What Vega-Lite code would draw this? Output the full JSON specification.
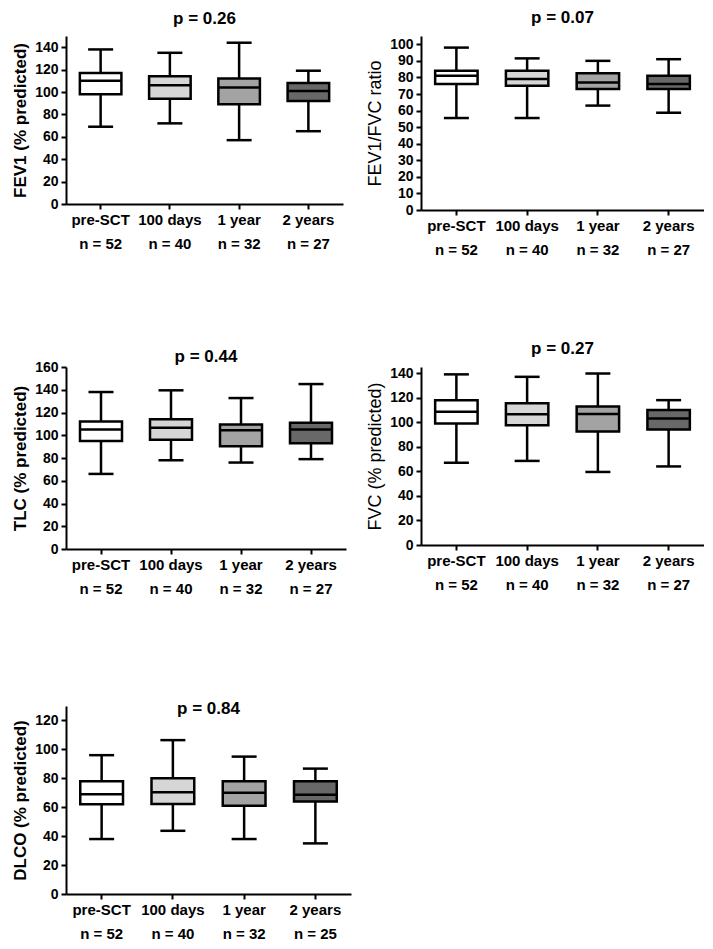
{
  "$schema": "https://vega.github.io/schema/vega-lite/v6.json",
  "background": "white",
  "padding": {"left": 11, "top": 9, "right": 0, "bottom": 0},
  "columns": 2,
  "align": "none",
  "bounds": "flush",
  "spacing": {"row": 157, "column": 70},
  "config": {
    "font": "Liberation Sans",
    "view": {"stroke": null},
    "axis": {"grid": false, "labelOverlap": false, "domainColor": "black", "domainWidth": 2, "tickColor": "black", "tickWidth": 2, "tickSize": 5, "labelFont": "Liberation Sans", "labelFontWeight": "bold", "labelFontSize": 14, "labelColor": "black", "labelPadding": 3, "titleFont": "Liberation Sans", "titleColor": "black", "titleFontSize": 17, "titleFontWeight": "bold", "titlePadding": 5},
    "axisX": {"labelAngle": 0, "labelFontSize": 15, "labelLineHeight": 24, "labelPadding": 3, "tickSize": 5},
    "title": {"font": "Liberation Sans", "fontSize": 17, "fontWeight": "bold", "color": "black", "frame": "group", "anchor": "middle"}
  },
  "concat": [
    {
      "width": 277, "height": 168,
      "title": {"text": "p = 0.26", "offset": 8},
      "data": {"values": [
        {"g": "pre-SCT|n = 52", "k": "pre", "lo": 69, "q1": 98, "med": 110, "q3": 117, "hi": 138},
        {"g": "100 days|n = 40", "k": "d100", "lo": 72, "q1": 94, "med": 106, "q3": 114, "hi": 135},
        {"g": "1 year|n = 32", "k": "y1", "lo": 57, "q1": 89, "med": 104, "q3": 112, "hi": 144},
        {"g": "2 years|n = 27", "k": "y2", "lo": 65, "q1": 92, "med": 101, "q3": 108, "hi": 119}
      ]},
      "encoding": {"x": {"field": "g", "type": "nominal", "sort": null, "title": null, "scale": {"paddingInner": 0, "paddingOuter": 0}, "axis": {"labelExpr": "split(datum.label, '|')"}}},
      "layer": [
        {"mark": {"type": "rule", "color": "black", "strokeWidth": 2.5}, "encoding": {"y": {"field": "lo", "type": "quantitative", "title": "FEV1 (% predicted)", "scale": {"domain": [0, 150], "nice": false}, "axis": {"values": [0, 20, 40, 60, 80, 100, 120, 140]}}, "y2": {"field": "hi"}}},
        {"mark": {"type": "tick", "color": "black", "thickness": 2.5, "size": 25, "opacity": 1}, "encoding": {"y": {"field": "lo", "type": "quantitative", "title": "FEV1 (% predicted)", "axis": {"values": [0, 20, 40, 60, 80, 100, 120, 140]}}}},
        {"mark": {"type": "tick", "color": "black", "thickness": 2.5, "size": 25, "opacity": 1}, "encoding": {"y": {"field": "hi", "type": "quantitative", "title": "FEV1 (% predicted)", "axis": {"values": [0, 20, 40, 60, 80, 100, 120, 140]}}}},
        {"mark": {"type": "bar", "stroke": "black", "strokeWidth": 2.5, "width": {"band": 0.6}}, "encoding": {"y": {"field": "q1", "type": "quantitative", "title": "FEV1 (% predicted)", "axis": {"values": [0, 20, 40, 60, 80, 100, 120, 140]}}, "y2": {"field": "q3"}, "fill": {"field": "k", "type": "nominal", "legend": null, "scale": {"domain": ["pre", "d100", "y1", "y2"], "range": ["#ffffff", "#d6d6d6", "#a3a3a3", "#686868"]}}}},
        {"mark": {"type": "tick", "color": "black", "thickness": 2.5, "size": 42, "opacity": 1}, "encoding": {"y": {"field": "med", "type": "quantitative", "title": "FEV1 (% predicted)", "axis": {"values": [0, 20, 40, 60, 80, 100, 120, 140]}}}}
      ]
    },
    {
      "width": 283, "height": 174,
      "title": {"text": "p = 0.07", "offset": 9},
      "data": {"values": [
        {"g": "pre-SCT|n = 52", "k": "pre", "lo": 55.5, "q1": 76, "med": 81, "q3": 84, "hi": 98},
        {"g": "100 days|n = 40", "k": "d100", "lo": 55.5, "q1": 75, "med": 79, "q3": 84, "hi": 91.5},
        {"g": "1 year|n = 32", "k": "y1", "lo": 63, "q1": 73, "med": 77, "q3": 82.5, "hi": 90},
        {"g": "2 years|n = 27", "k": "y2", "lo": 58.7, "q1": 73, "med": 76, "q3": 81, "hi": 91}
      ]},
      "encoding": {"x": {"field": "g", "type": "nominal", "sort": null, "title": null, "scale": {"paddingInner": 0, "paddingOuter": 0}, "axis": {"labelExpr": "split(datum.label, '|')"}}},
      "layer": [
        {"mark": {"type": "rule", "color": "black", "strokeWidth": 2.5}, "encoding": {"y": {"field": "lo", "type": "quantitative", "title": "FEV1/FVC ratio", "scale": {"domain": [0, 105], "nice": false}, "axis": {"values": [0, 10, 20, 30, 40, 50, 60, 70, 80, 90, 100], "titleFontWeight": "normal", "titleFontSize": 18}}, "y2": {"field": "hi"}}},
        {"mark": {"type": "tick", "color": "black", "thickness": 2.5, "size": 25, "opacity": 1}, "encoding": {"y": {"field": "lo", "type": "quantitative", "title": "FEV1/FVC ratio", "axis": {"values": [0, 10, 20, 30, 40, 50, 60, 70, 80, 90, 100], "titleFontWeight": "normal", "titleFontSize": 18}}}},
        {"mark": {"type": "tick", "color": "black", "thickness": 2.5, "size": 25, "opacity": 1}, "encoding": {"y": {"field": "hi", "type": "quantitative", "title": "FEV1/FVC ratio", "axis": {"values": [0, 10, 20, 30, 40, 50, 60, 70, 80, 90, 100], "titleFontWeight": "normal", "titleFontSize": 18}}}},
        {"mark": {"type": "bar", "stroke": "black", "strokeWidth": 2.5, "width": {"band": 0.6}}, "encoding": {"y": {"field": "q1", "type": "quantitative", "title": "FEV1/FVC ratio", "axis": {"values": [0, 10, 20, 30, 40, 50, 60, 70, 80, 90, 100], "titleFontWeight": "normal", "titleFontSize": 18}}, "y2": {"field": "q3"}, "fill": {"field": "k", "type": "nominal", "legend": null, "scale": {"domain": ["pre", "d100", "y1", "y2"], "range": ["#ffffff", "#d6d6d6", "#a3a3a3", "#686868"]}}}},
        {"mark": {"type": "tick", "color": "black", "thickness": 2.5, "size": 42, "opacity": 1}, "encoding": {"y": {"field": "med", "type": "quantitative", "title": "FEV1/FVC ratio", "axis": {"values": [0, 10, 20, 30, 40, 50, 60, 70, 80, 90, 100], "titleFontWeight": "normal", "titleFontSize": 18}}}}
      ]
    },
    {
      "width": 280, "height": 182,
      "title": {"text": "p = 0.44", "offset": -6},
      "data": {"values": [
        {"g": "pre-SCT|n = 52", "k": "pre", "lo": 66, "q1": 95, "med": 105, "q3": 112, "hi": 138},
        {"g": "100 days|n = 40", "k": "d100", "lo": 78, "q1": 96, "med": 106.5, "q3": 114, "hi": 139.5},
        {"g": "1 year|n = 32", "k": "y1", "lo": 76, "q1": 90.4, "med": 104.5, "q3": 109.5, "hi": 132.7},
        {"g": "2 years|n = 27", "k": "y2", "lo": 79, "q1": 93, "med": 105, "q3": 111, "hi": 145}
      ]},
      "encoding": {"x": {"field": "g", "type": "nominal", "sort": null, "title": null, "scale": {"paddingInner": 0, "paddingOuter": 0}, "axis": {"labelExpr": "split(datum.label, '|')"}}},
      "layer": [
        {"mark": {"type": "rule", "color": "black", "strokeWidth": 2.5}, "encoding": {"y": {"field": "lo", "type": "quantitative", "title": "TLC (% predicted)", "scale": {"domain": [0, 160], "nice": false}, "axis": {"values": [0, 20, 40, 60, 80, 100, 120, 140, 160]}}, "y2": {"field": "hi"}}},
        {"mark": {"type": "tick", "color": "black", "thickness": 2.5, "size": 25, "opacity": 1}, "encoding": {"y": {"field": "lo", "type": "quantitative", "title": "TLC (% predicted)", "axis": {"values": [0, 20, 40, 60, 80, 100, 120, 140, 160]}}}},
        {"mark": {"type": "tick", "color": "black", "thickness": 2.5, "size": 25, "opacity": 1}, "encoding": {"y": {"field": "hi", "type": "quantitative", "title": "TLC (% predicted)", "axis": {"values": [0, 20, 40, 60, 80, 100, 120, 140, 160]}}}},
        {"mark": {"type": "bar", "stroke": "black", "strokeWidth": 2.5, "width": {"band": 0.6}}, "encoding": {"y": {"field": "q1", "type": "quantitative", "title": "TLC (% predicted)", "axis": {"values": [0, 20, 40, 60, 80, 100, 120, 140, 160]}}, "y2": {"field": "q3"}, "fill": {"field": "k", "type": "nominal", "legend": null, "scale": {"domain": ["pre", "d100", "y1", "y2"], "range": ["#ffffff", "#d6d6d6", "#a3a3a3", "#686868"]}}}},
        {"mark": {"type": "tick", "color": "black", "thickness": 2.5, "size": 42, "opacity": 1}, "encoding": {"y": {"field": "med", "type": "quantitative", "title": "TLC (% predicted)", "axis": {"values": [0, 20, 40, 60, 80, 100, 120, 140, 160]}}}}
      ]
    },
    {
      "width": 283, "height": 178,
      "title": {"text": "p = 0.27", "offset": 8},
      "data": {"values": [
        {"g": "pre-SCT|n = 52", "k": "pre", "lo": 67, "q1": 99, "med": 108.5, "q3": 118, "hi": 139},
        {"g": "100 days|n = 40", "k": "d100", "lo": 68.5, "q1": 97.5, "med": 106.5, "q3": 115.5, "hi": 137},
        {"g": "1 year|n = 32", "k": "y1", "lo": 59.5, "q1": 92.4, "med": 106.8, "q3": 112.8, "hi": 139.7},
        {"g": "2 years|n = 27", "k": "y2", "lo": 64, "q1": 94, "med": 103, "q3": 110, "hi": 118}
      ]},
      "encoding": {"x": {"field": "g", "type": "nominal", "sort": null, "title": null, "scale": {"paddingInner": 0, "paddingOuter": 0}, "axis": {"labelExpr": "split(datum.label, '|')"}}},
      "layer": [
        {"mark": {"type": "rule", "color": "black", "strokeWidth": 2.5}, "encoding": {"y": {"field": "lo", "type": "quantitative", "title": "FVC (% predicted)", "scale": {"domain": [0, 145], "nice": false}, "axis": {"values": [0, 20, 40, 60, 80, 100, 120, 140], "titleFontWeight": "normal", "titleFontSize": 18}}, "y2": {"field": "hi"}}},
        {"mark": {"type": "tick", "color": "black", "thickness": 2.5, "size": 25, "opacity": 1}, "encoding": {"y": {"field": "lo", "type": "quantitative", "title": "FVC (% predicted)", "axis": {"values": [0, 20, 40, 60, 80, 100, 120, 140], "titleFontWeight": "normal", "titleFontSize": 18}}}},
        {"mark": {"type": "tick", "color": "black", "thickness": 2.5, "size": 25, "opacity": 1}, "encoding": {"y": {"field": "hi", "type": "quantitative", "title": "FVC (% predicted)", "axis": {"values": [0, 20, 40, 60, 80, 100, 120, 140], "titleFontWeight": "normal", "titleFontSize": 18}}}},
        {"mark": {"type": "bar", "stroke": "black", "strokeWidth": 2.5, "width": {"band": 0.6}}, "encoding": {"y": {"field": "q1", "type": "quantitative", "title": "FVC (% predicted)", "axis": {"values": [0, 20, 40, 60, 80, 100, 120, 140], "titleFontWeight": "normal", "titleFontSize": 18}}, "y2": {"field": "q3"}, "fill": {"field": "k", "type": "nominal", "legend": null, "scale": {"domain": ["pre", "d100", "y1", "y2"], "range": ["#ffffff", "#d6d6d6", "#a3a3a3", "#686868"]}}}},
        {"mark": {"type": "tick", "color": "black", "thickness": 2.5, "size": 42, "opacity": 1}, "encoding": {"y": {"field": "med", "type": "quantitative", "title": "FVC (% predicted)", "axis": {"values": [0, 20, 40, 60, 80, 100, 120, 140], "titleFontWeight": "normal", "titleFontSize": 18}}}}
      ]
    },
    {
      "width": 285, "height": 188,
      "title": {"text": "p = 0.84", "offset": -12},
      "data": {"values": [
        {"g": "pre-SCT|n = 52", "k": "pre", "lo": 38, "q1": 62, "med": 69, "q3": 78, "hi": 96},
        {"g": "100 days|n = 40", "k": "d100", "lo": 43.7, "q1": 62.3, "med": 70.4, "q3": 80, "hi": 106.4},
        {"g": "1 year|n = 32", "k": "y1", "lo": 38, "q1": 61, "med": 70, "q3": 78, "hi": 95},
        {"g": "2 years|n = 25", "k": "y2", "lo": 35, "q1": 64, "med": 68.6, "q3": 78, "hi": 86.7}
      ]},
      "encoding": {"x": {"field": "g", "type": "nominal", "sort": null, "title": null, "scale": {"paddingInner": 0, "paddingOuter": 0}, "axis": {"labelExpr": "split(datum.label, '|')"}}},
      "layer": [
        {"mark": {"type": "rule", "color": "black", "strokeWidth": 2.5}, "encoding": {"y": {"field": "lo", "type": "quantitative", "title": "DLCO (% predicted)", "scale": {"domain": [0, 130], "nice": false}, "axis": {"values": [0, 20, 40, 60, 80, 100, 120]}}, "y2": {"field": "hi"}}},
        {"mark": {"type": "tick", "color": "black", "thickness": 2.5, "size": 25, "opacity": 1}, "encoding": {"y": {"field": "lo", "type": "quantitative", "title": "DLCO (% predicted)", "axis": {"values": [0, 20, 40, 60, 80, 100, 120]}}}},
        {"mark": {"type": "tick", "color": "black", "thickness": 2.5, "size": 25, "opacity": 1}, "encoding": {"y": {"field": "hi", "type": "quantitative", "title": "DLCO (% predicted)", "axis": {"values": [0, 20, 40, 60, 80, 100, 120]}}}},
        {"mark": {"type": "bar", "stroke": "black", "strokeWidth": 2.5, "width": {"band": 0.6}}, "encoding": {"y": {"field": "q1", "type": "quantitative", "title": "DLCO (% predicted)", "axis": {"values": [0, 20, 40, 60, 80, 100, 120]}}, "y2": {"field": "q3"}, "fill": {"field": "k", "type": "nominal", "legend": null, "scale": {"domain": ["pre", "d100", "y1", "y2"], "range": ["#ffffff", "#d6d6d6", "#a3a3a3", "#686868"]}}}},
        {"mark": {"type": "tick", "color": "black", "thickness": 2.5, "size": 42, "opacity": 1}, "encoding": {"y": {"field": "med", "type": "quantitative", "title": "DLCO (% predicted)", "axis": {"values": [0, 20, 40, 60, 80, 100, 120]}}}}
      ]
    }
  ]
}
